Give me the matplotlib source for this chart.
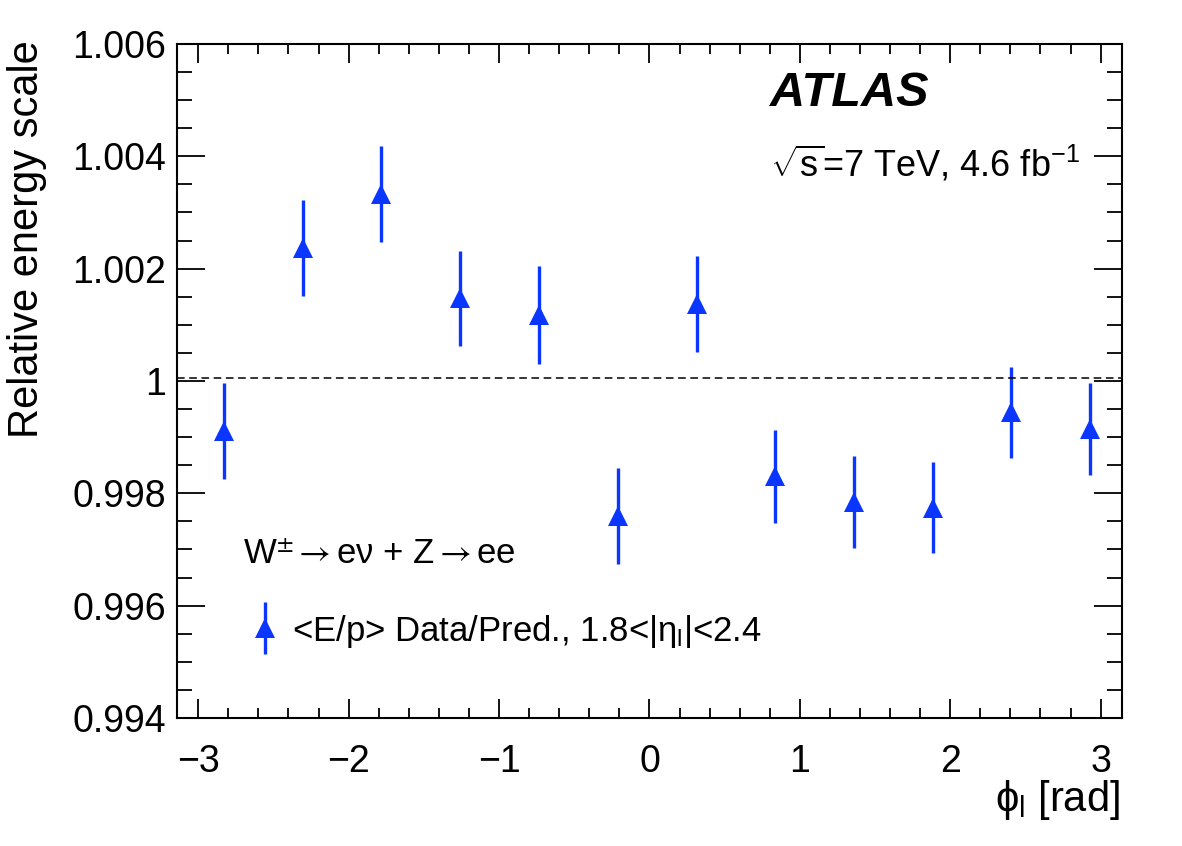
import matplotlib
matplotlib.use("Agg")
import matplotlib.pyplot as plt
from matplotlib.ticker import MultipleLocator, FuncFormatter
from matplotlib.legend_handler import HandlerErrorbar

plt.rcParams["font.family"] = ["Liberation Sans", "DejaVu Sans"]
plt.rcParams["mathtext.fontset"] = "custom"
plt.rcParams["mathtext.rm"] = "Liberation Sans"
plt.rcParams["mathtext.it"] = "Liberation Sans"
plt.rcParams["mathtext.bf"] = "Liberation Sans:bold"

# phi bin centres [rad], E/p data/prediction ratio and its uncertainty
phi = [-2.829, -2.305, -1.782, -1.258, -0.735, -0.211,
       0.313, 0.836, 1.360, 1.883, 2.407, 2.931]
scale = [0.99911, 1.00237, 1.00333, 1.00147, 1.00117, 0.99760,
         1.00137, 0.99830, 0.99785, 0.99774, 0.99944, 0.99915]
err = [0.00086, 0.00085, 0.00086, 0.00085, 0.00087, 0.00085,
       0.00085, 0.00083, 0.00082, 0.00081, 0.00081, 0.00082]
ref_line = 1.00006

BLUE = "#0a36ff"

fig = plt.figure(figsize=(11.82, 8.46), dpi=100)
ax = fig.add_axes([0.1497, 0.1513, 0.7995, 0.7967])

eb = ax.errorbar(phi, scale, yerr=err, fmt="^", color=BLUE, ms=14, mew=0,
                 elinewidth=2.4, capsize=2, capthick=2.4,
                 label=r"<E/p> Data/Pred., 1.8<|$\eta_{l}$|<2.4")
ax.axhline(ref_line, color="black", lw=1.1, ls=(0, (5, 3)))

ax.set_xlim(-3.14159, 3.14159)
ax.set_ylim(0.994, 1.006)

ax.xaxis.set_major_locator(MultipleLocator(1))
ax.xaxis.set_minor_locator(MultipleLocator(0.2))
ax.yaxis.set_major_locator(MultipleLocator(0.002))
ax.yaxis.set_minor_locator(MultipleLocator(0.0005))
ax.yaxis.set_major_formatter(FuncFormatter(lambda v, p: "%g" % round(v, 4)))

ax.tick_params(which="both", direction="in", top=True, right=True, width=1.3)
ax.tick_params(axis="y", which="major", length=20, labelsize=27, pad=8)
ax.tick_params(axis="y", which="minor", length=11)
ax.tick_params(axis="x", which="major", length=14, labelsize=27, pad=19)
ax.tick_params(axis="x", which="minor", length=7)
for s in ax.spines.values():
    s.set_linewidth(1.5)

fig.text(27 / 1182, 1 - 40 / 846, "Relative energy scale", rotation=90,
         ha="center", va="top", fontsize=30)
fig.text(1120 / 1182, 1 - 800 / 846, r"$\phi_{l}$ [rad]", ha="right",
         va="center", fontsize=30)

ax.text(0.6275, 0.927, "ATLAS", transform=ax.transAxes, fontsize=35,
        fontweight="bold", fontstyle="italic", va="center", ha="left")
ax.text(0.6275, 0.822, r"$\sqrt{s}$=7 TeV, 4.6 fb$^{-1}$",
        transform=ax.transAxes, fontsize=26, va="center", ha="left")
ax.text(0.070, 0.242, "W$^{\\pm}\\rightarrow$e\u03bd + Z$\\rightarrow$ee",
        transform=ax.transAxes, fontsize=25, va="center", ha="left",
        math_fontfamily="stixsans")

ax.legend(handles=[eb], loc="center left", bbox_to_anchor=(0.078, 0.129),
          frameon=False, fontsize=25, handlelength=0.8, handletextpad=0.4,
          borderpad=0, borderaxespad=0,
          handler_map={type(eb): HandlerErrorbar(yerr_size=0.75)})

fig.savefig("out.png", dpi=100)
